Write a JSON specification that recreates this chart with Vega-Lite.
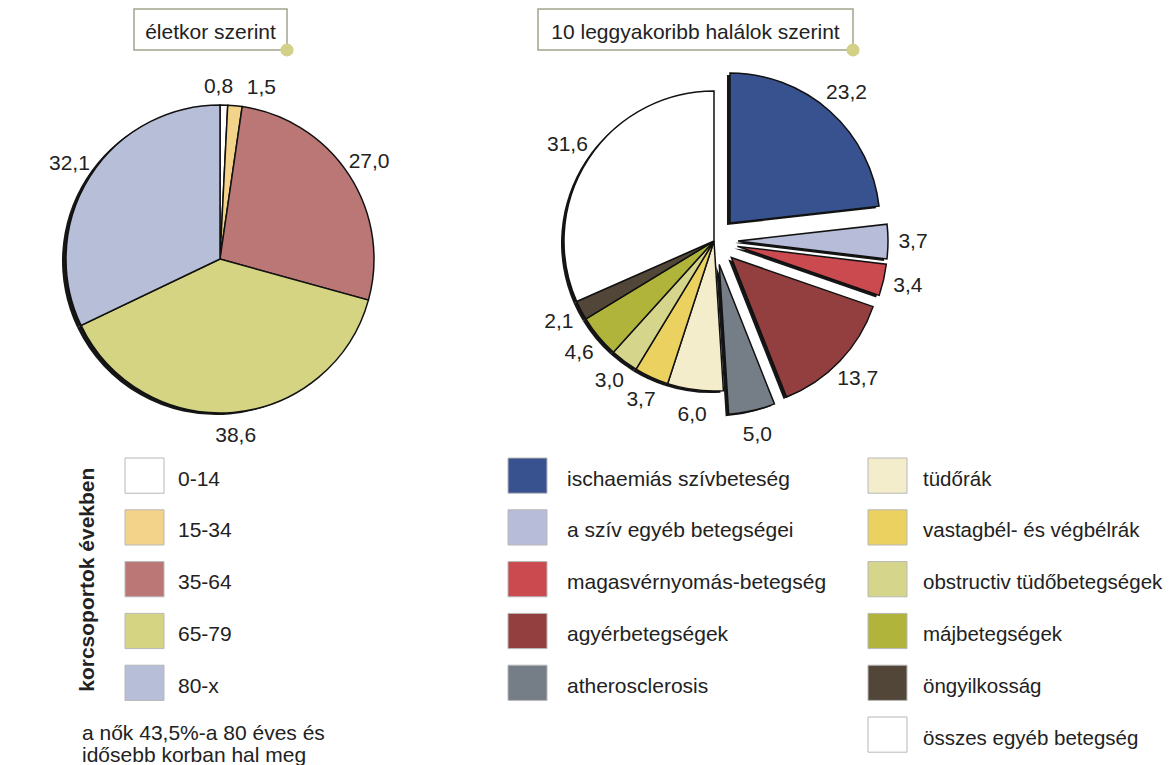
{
  "$schema": "https://vega.github.io/schema/vega-lite/v6.json",
  "autosize": {"type": "pad"},
  "padding": {"left": 0, "top": 8, "right": 0, "bottom": 0},
  "background": "white",
  "config": {
    "font": "Liberation Sans",
    "view": {"stroke": null},
    "locale": {"number": {"decimal": ",", "thousands": " ", "grouping": [3], "currency": ["", " Ft"]}},
    "text": {"font": "Liberation Sans", "fontSize": 21}
  },
  "datasets": {
    "korcsoport": [
      {"kor": "0-14", "ertek": 0.8, "sorrend": 1},
      {"kor": "15-34", "ertek": 1.5, "sorrend": 2},
      {"kor": "35-64", "ertek": 27.0, "sorrend": 3},
      {"kor": "65-79", "ertek": 38.6, "sorrend": 4},
      {"kor": "80-x", "ertek": 32.1, "sorrend": 5}
    ],
    "halalok": [
      {"ok": "ischaemiás szívbeteség", "ertek": 23.2, "csoport": "keringési", "sorrend": 1},
      {"ok": "a szív egyéb betegségei", "ertek": 3.7, "csoport": "keringési", "sorrend": 2},
      {"ok": "magasvérnyomás-betegség", "ertek": 3.4, "csoport": "keringési", "sorrend": 3},
      {"ok": "agyérbetegségek", "ertek": 13.7, "csoport": "keringési", "sorrend": 4},
      {"ok": "atherosclerosis", "ertek": 5.0, "csoport": "keringési", "sorrend": 5},
      {"ok": "tüdőrák", "ertek": 6.0, "csoport": "egyéb", "sorrend": 6},
      {"ok": "vastagbél- és végbélrák", "ertek": 3.7, "csoport": "egyéb", "sorrend": 7},
      {"ok": "obstructiv tüdőbetegségek", "ertek": 3.0, "csoport": "egyéb", "sorrend": 8},
      {"ok": "májbetegségek", "ertek": 4.6, "csoport": "egyéb", "sorrend": 9},
      {"ok": "öngyilkosság", "ertek": 2.1, "csoport": "egyéb", "sorrend": 10},
      {"ok": "összes egyéb betegség", "ertek": 31.6, "csoport": "egyéb", "sorrend": 11}
    ],
    "cimek": [
      {"cim": "életkor szerint"},
      {"cim": "10 leggyakoribb halálok szerint"}
    ]
  },
  "bounds": "full",
  "spacing": 0,
  "resolve": {"scale": {"color": "independent", "theta": "independent", "y": "independent"}},
  "vconcat": [
    {
      "bounds": "flush",
      "spacing": 0,
      "hconcat": [
        {"width": 134, "height": 52, "data": {"values": []}, "mark": "text"},
        {
          "width": 153, "height": 41,
          "data": {"name": "cimek"},
          "transform": [{"filter": "datum.cim == 'életkor szerint'"}],
          "view": {"fill": "white", "stroke": "#a4a48c", "strokeWidth": 1.5},
          "layer": [
            {"mark": {"type": "text", "fontSize": 21, "dy": 3, "color": "#222"}, "encoding": {"text": {"field": "cim"}}},
            {"mark": {"type": "point", "x": "width", "y": "height", "filled": true, "size": 170, "color": "#d3d088", "opacity": 1}}
          ]
        },
        {"width": 251, "height": 41, "data": {"values": []}, "mark": "text"},
        {
          "width": 315, "height": 41,
          "data": {"name": "cimek"},
          "transform": [{"filter": "datum.cim != 'életkor szerint'"}],
          "view": {"fill": "white", "stroke": "#a4a48c", "strokeWidth": 1.5},
          "layer": [
            {"mark": {"type": "text", "fontSize": 21, "dy": 3, "color": "#222"}, "encoding": {"text": {"field": "cim"}}},
            {"mark": {"type": "point", "x": "width", "y": "height", "filled": true, "size": 170, "color": "#d3d088", "opacity": 1}}
          ]
        }
      ]
    },
    {
      "bounds": "flush",
      "spacing": 0,
      "resolve": {"scale": {"color": "independent", "theta": "independent"}},
      "hconcat": [
        {
          "width": 440, "height": 396,
          "data": {"name": "korcsoport"},
          "encoding": {
            "theta": {"field": "ertek", "type": "quantitative", "stack": true},
            "order": {"field": "sorrend", "type": "quantitative"},
            "color": {
              "field": "kor", "type": "nominal", "legend": null,
              "scale": {"domain": ["0-14", "15-34", "35-64", "65-79", "80-x"], "range": ["#ffffff", "#f3d389", "#bb7776", "#d4d483", "#b7bed8"]}
            }
          },
          "layer": [
            {"mark": {"type": "arc", "radius": 154, "xOffset": -4, "yOffset": 2}, "encoding": {"color": {"value": "#161616"}}},
            {"mark": {"type": "arc", "radius": 154, "stroke": "#111111", "strokeWidth": 1.5}},
            {
              "mark": {"type": "text", "radius": 178, "fontSize": 21, "dx": {"expr": "datum.kor == '0-14' ? -6 : datum.kor == '15-34' ? 24 : 0"}, "dy": {"expr": "datum.ertek < 2 ? 6 : 0"}},
              "encoding": {"text": {"field": "ertek", "type": "quantitative", "format": ".1f"}, "color": {"value": "#222222"}}
            }
          ]
        },
        {
          "width": 548, "height": 360,
          "data": {"name": "halalok"},
          "encoding": {
            "theta": {"field": "ertek", "type": "quantitative", "stack": true},
            "order": {"field": "sorrend", "type": "quantitative"},
            "color": {
              "field": "ok", "type": "nominal", "legend": null,
              "scale": {
                "domain": ["ischaemiás szívbeteség", "a szív egyéb betegségei", "magasvérnyomás-betegség", "agyérbetegségek", "atherosclerosis", "tüdőrák", "vastagbél- és végbélrák", "obstructiv tüdőbetegségek", "májbetegségek", "öngyilkosság", "összes egyéb betegség"],
                "range": ["#37528e", "#b7bdd8", "#ca4a4f", "#933f40", "#757d86", "#f4edcb", "#ebd160", "#d5d58b", "#b0b43b", "#524639", "#ffffff"]
              }
            }
          },
          "layer": [
            {
              "mark": {
                "type": "arc", "radius": 150,
                "xOffset": {"expr": "-3 + (datum.csoport == 'keringési' ? 24 : 0) * sin(PI * (datum.ertek_start + datum.ertek_end) / 100)"},
                "yOffset": {"expr": "2 - (datum.csoport == 'keringési' ? 24 : 0) * cos(PI * (datum.ertek_start + datum.ertek_end) / 100)"}
              },
              "encoding": {"color": {"value": "#161616"}}
            },
            {
              "mark": {
                "type": "arc", "radius": 150, "stroke": "#111111", "strokeWidth": 1.5,
                "xOffset": {"expr": "(datum.csoport == 'keringési' ? 24 : 0) * sin(PI * (datum.ertek_start + datum.ertek_end) / 100)"},
                "yOffset": {"expr": "-(datum.csoport == 'keringési' ? 24 : 0) * cos(PI * (datum.ertek_start + datum.ertek_end) / 100)"}
              }
            },
            {
              "mark": {
                "type": "text", "radius": 175, "fontSize": 21,
                "dx": {"expr": "(datum.csoport == 'keringési' ? 24 : 0) * sin(PI * (datum.ertek_start + datum.ertek_end) / 100)"},
                "dy": {"expr": "-(datum.csoport == 'keringési' ? 24 : 0) * cos(PI * (datum.ertek_start + datum.ertek_end) / 100)"}
              },
              "encoding": {"text": {"field": "ertek", "type": "quantitative", "format": ".1f"}, "color": {"value": "#222222"}}
            }
          ]
        }
      ]
    },
    {
      "bounds": "flush",
      "spacing": 0,
      "resolve": {"scale": {"color": "independent", "y": "independent"}},
      "hconcat": [
        {"width": 125, "height": 242, "data": {"values": []}, "mark": "text"},
        {
          "width": 39, "height": 242.4,
          "data": {"name": "korcsoport"},
          "title": {
            "text": ["a nők 43,5%-a 80 éves és", "idősebb korban hal meg"],
            "orient": "bottom", "anchor": "start", "frame": "group",
            "dx": -43, "offset": 22, "fontSize": 21, "fontWeight": "normal",
            "lineHeight": 22, "color": "#222222", "baseline": "top", "font": "Liberation Sans"
          },
          "encoding": {
            "y": {
              "field": "kor", "type": "nominal", "sort": null,
              "scale": {"paddingInner": 0.32, "paddingOuter": 0},
              "axis": {"title": "korcsoportok években", "labels": false, "ticks": false, "domain": false, "grid": false, "titleFontSize": 21, "titleFontWeight": "bold", "titlePadding": 28, "titleColor": "#222222", "titleFont": "Liberation Sans"}
            },
            "color": {
              "field": "kor", "type": "nominal", "legend": null,
              "scale": {"domain": ["0-14", "15-34", "35-64", "65-79", "80-x"], "range": ["#ffffff", "#f3d389", "#bb7776", "#d4d483", "#b7bed8"]}
            }
          },
          "layer": [
            {"mark": {"type": "rect", "stroke": "#b8b8b8", "strokeWidth": 1}},
            {"mark": {"type": "text", "x": "width", "dx": 14, "dy": 4, "align": "left", "baseline": "middle", "fontSize": 21}, "encoding": {"text": {"field": "kor"}, "color": {"value": "#222222"}}}
          ]
        },
        {"width": 344, "height": 242, "data": {"values": []}, "mark": "text"},
        {
          "width": 39, "height": 242.4,
          "data": {"name": "halalok"},
          "transform": [{"filter": "datum.sorrend <= 5"}],
          "encoding": {
            "y": {"field": "ok", "type": "nominal", "sort": null, "scale": {"paddingInner": 0.32, "paddingOuter": 0}, "axis": null},
            "color": {
              "field": "ok", "type": "nominal", "legend": null,
              "scale": {
                "domain": ["ischaemiás szívbeteség", "a szív egyéb betegségei", "magasvérnyomás-betegség", "agyérbetegségek", "atherosclerosis", "tüdőrák", "vastagbél- és végbélrák", "obstructiv tüdőbetegségek", "májbetegségek", "öngyilkosság", "összes egyéb betegség"],
                "range": ["#37528e", "#b7bdd8", "#ca4a4f", "#933f40", "#757d86", "#f4edcb", "#ebd160", "#d5d58b", "#b0b43b", "#524639", "#ffffff"]
              }
            }
          },
          "layer": [
            {"mark": {"type": "rect", "stroke": "#b8b8b8", "strokeWidth": 1}},
            {"mark": {"type": "text", "x": "width", "dx": 20, "dy": 4, "align": "left", "baseline": "middle", "fontSize": 21}, "encoding": {"text": {"field": "ok"}, "color": {"value": "#222222"}}}
          ]
        },
        {"width": 321, "height": 242, "data": {"values": []}, "mark": "text"},
        {
          "width": 39, "height": 294.2,
          "data": {"name": "halalok"},
          "transform": [{"filter": "datum.sorrend > 5"}],
          "encoding": {
            "y": {"field": "ok", "type": "nominal", "sort": null, "scale": {"paddingInner": 0.32, "paddingOuter": 0}, "axis": null},
            "color": {
              "field": "ok", "type": "nominal", "legend": null,
              "scale": {
                "domain": ["ischaemiás szívbeteség", "a szív egyéb betegségei", "magasvérnyomás-betegség", "agyérbetegségek", "atherosclerosis", "tüdőrák", "vastagbél- és végbélrák", "obstructiv tüdőbetegségek", "májbetegségek", "öngyilkosság", "összes egyéb betegség"],
                "range": ["#37528e", "#b7bdd8", "#ca4a4f", "#933f40", "#757d86", "#f4edcb", "#ebd160", "#d5d58b", "#b0b43b", "#524639", "#ffffff"]
              }
            }
          },
          "layer": [
            {"mark": {"type": "rect", "stroke": "#b8b8b8", "strokeWidth": 1}},
            {"mark": {"type": "text", "x": "width", "dx": 16, "dy": 4, "align": "left", "baseline": "middle", "fontSize": 20.5}, "encoding": {"text": {"field": "ok"}, "color": {"value": "#222222"}}}
          ]
        }
      ]
    }
  ]
}
